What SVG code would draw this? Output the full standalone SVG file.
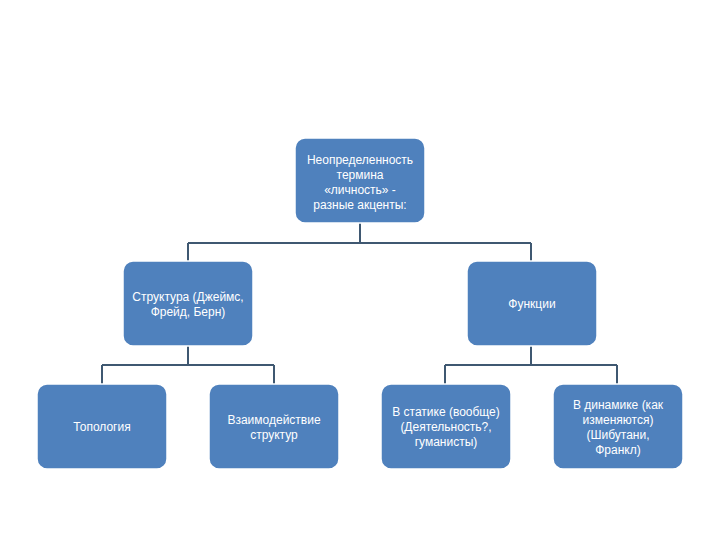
<svg xmlns="http://www.w3.org/2000/svg" width="720" height="540" viewBox="0 0 720 540">
<style>
.n{fill:#4F81BD;stroke:#FFFFFF;stroke-width:1.5}
.t{font-family:"Liberation Sans",Arial,sans-serif;font-size:12px;fill:#FFFFFF;text-anchor:middle}
.c{fill:none;stroke:#3F5871;stroke-width:2}
</style>
<rect width="720" height="540" fill="#FFFFFF"/>
<g id="connectors">
<path class="c" d="M360 223V243M188 243H531M188 243V262M531 243V262"/>
<path class="c" d="M188 346V365M102 365H274M102 365V384M274 365V384"/>
<path class="c" d="M531 346V365M445 365H617M445 365V384M617 365V384"/>
</g>
<g id="root">
<rect class="n" x="295" y="138" width="130" height="85" rx="10"/>
<text class="t" x="360" y="164">Неопределенность</text>
<text class="t" x="360" y="179">термина</text>
<text class="t" x="360" y="194">«личность» -</text>
<text class="t" x="360" y="209">разные акценты:</text>
</g>
<g id="structure">
<rect class="n" x="123" y="261" width="130" height="85" rx="10"/>
<text class="t" x="188" y="301">Структура (Джеймс,</text>
<text class="t" x="188" y="316">Фрейд, Берн)</text>
</g>
<g id="functions">
<rect class="n" x="467" y="261" width="130" height="85" rx="10"/>
<text class="t" x="532" y="308">Функции</text>
</g>
<g id="topology">
<rect class="n" x="37" y="384" width="130" height="85" rx="10"/>
<text class="t" x="102" y="431">Топология</text>
</g>
<g id="interaction">
<rect class="n" x="209" y="384" width="130" height="85" rx="10"/>
<text class="t" x="274" y="424">Взаимодействие</text>
<text class="t" x="274" y="439">структур</text>
</g>
<g id="static">
<rect class="n" x="381" y="384" width="130" height="85" rx="10"/>
<text class="t" x="446" y="416">В статике (вообще)</text>
<text class="t" x="446" y="431">(Деятельность?,</text>
<text class="t" x="446" y="446">гуманисты)</text>
</g>
<g id="dynamic">
<rect class="n" x="553" y="384" width="130" height="85" rx="10"/>
<text class="t" x="618" y="409">В динамике (как</text>
<text class="t" x="618" y="424">изменяются)</text>
<text class="t" x="618" y="439">(Шибутани,</text>
<text class="t" x="618" y="454">Франкл)</text>
</g>
</svg>
